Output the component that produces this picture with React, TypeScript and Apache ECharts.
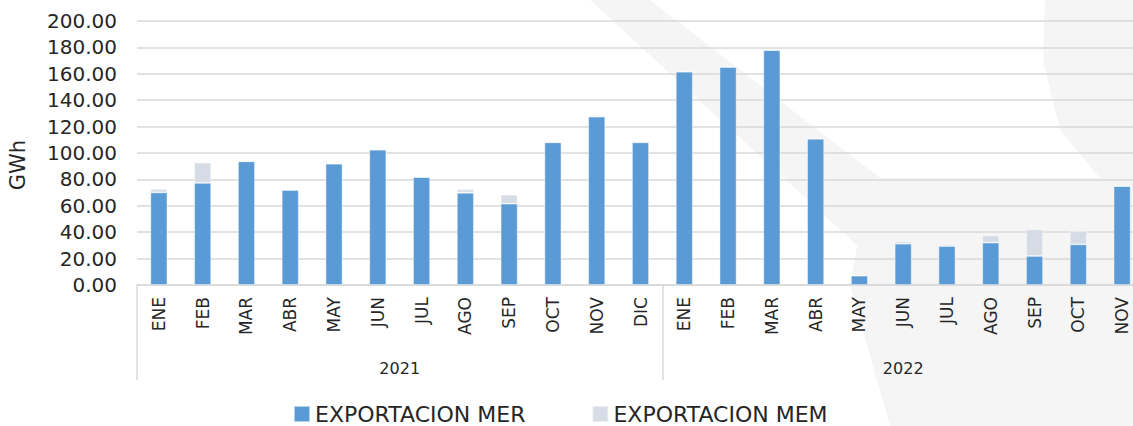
import React, { useEffect, useRef } from "react";
import * as echarts from "echarts";

const months2021 = ["ENE", "FEB", "MAR", "ABR", "MAY", "JUN", "JUL", "AGO", "SEP", "OCT", "NOV", "DIC"];
const months2022 = ["ENE", "FEB", "MAR", "ABR", "MAY", "JUN", "JUL", "AGO", "SEP", "OCT", "NOV"];
const years = ["2021", "2022"];
const categories = [...months2021, ...months2022];

const exportMER = [70.2, 77.3, 93.7, 72.0, 91.9, 102.5, 81.8, 69.9, 61.6, 108.1, 127.5, 108.1,
  161.6, 165.2, 178.0, 110.8, 7.1, 31.3, 29.5, 32.1, 22.0, 30.8, 75.0];
const exportMEM = [2.5, 15.4, 0, 0, 0, 0, 0, 2.6, 6.8, 0, 1.0, 0.9,
  0, 0, 0, 0.8, 0, 1.8, 1.3, 5.5, 20.2, 10.1, 0];

const yTicks = { min: 0, max: 200, interval: 20 };

const FONT = "DejaVu Sans";
const TEXT = "#262626";
const GRID = "#D9D9D9";
const WATERMARK = "#F5F5F5";

export default function App() {
  const ref = useRef<HTMLDivElement>(null);
  useEffect(() => {
    if (!ref.current) return;
    const chart = echarts.init(ref.current, null, { renderer: "svg" });
    const n1 = months2021.length;
    const n = categories.length;
    const yearBounds = [0, n1, n];
    const yearCenters = [n1 / 2, n1 + (n - n1) / 2];
    chart.setOption({
      animation: false,
      backgroundColor: "#ffffff",
      textStyle: { fontFamily: FONT },
      grid: { left: 137, top: 21, width: 1007, height: 264, containLabel: false },
      legend: {
        left: 288,
        top: 398,
        icon: "rect",
        itemWidth: 16,
        itemHeight: 16,
        itemGap: 66,
        textStyle: { fontSize: 22, color: TEXT, fontFamily: FONT },
        data: ["EXPORTACION MER", "EXPORTACION MEM"],
      },
      graphic: [
        {
          type: "polygon",
          silent: true,
          z: -10,
          shape: {
            points: [[1045, 0], [1160, 0], [1160, 426], [890, 426], [850, 285], [870, 178], [1100, 178], [1060, 130], [1043, 60]],
          },
          style: { fill: WATERMARK },
        },
        {
          type: "polygon",
          silent: true,
          z: -10,
          shape: {
            points: [[590, 0], [650, 0], [880, 178], [862, 250]],
          },
          style: { fill: WATERMARK },
        },
        {
          type: "text",
          x: 18,
          y: 165,
          rotation: Math.PI / 2,
          style: {
            text: "GWh",
            fontSize: 21,
            fontFamily: FONT,
            fill: TEXT,
            textAlign: "center",
            textVerticalAlign: "middle",
          },
        },
      ],
      xAxis: [
        {
          type: "category",
          data: categories,
          boundaryGap: true,
          axisLine: { show: true, lineStyle: { color: GRID, width: 1.5 } },
          axisTick: { show: false },
          axisLabel: {
            rotate: 90,
            margin: 12,
            fontSize: 17,
            color: TEXT,
            fontFamily: FONT,
            interval: 0,
          },
        },
        {
          type: "value",
          min: 0,
          max: n,
          position: "bottom",
          axisLine: { show: false },
          splitLine: { show: false },
          axisTick: {
            show: true,
            customValues: yearBounds,
            length: 95,
            lineStyle: { color: GRID, width: 1.5 },
          },
          axisLabel: {
            show: true,
            customValues: yearCenters,
            margin: 75,
            fontSize: 16,
            color: TEXT,
            fontFamily: FONT,
            formatter: (v: number) => {
              const i = yearCenters.findIndex((c) => Math.abs(c - v) < 1e-6);
              return i >= 0 ? years[i] : "";
            },
          },
        },
      ],
      yAxis: {
        type: "value",
        min: yTicks.min,
        max: yTicks.max,
        interval: yTicks.interval,
        axisLine: { show: false },
        axisTick: { show: false },
        splitLine: { lineStyle: { color: GRID, width: 1.5 } },
        axisLabel: {
          margin: 20,
          fontSize: 20,
          color: TEXT,
          fontFamily: FONT,
          formatter: (v: number) => v.toFixed(2),
        },
      },
      series: [
        {
          name: "EXPORTACION MER",
          type: "bar",
          stack: "total",
          barWidth: 17,
          xAxisIndex: 0,
          data: exportMER,
          itemStyle: { color: "#5B9BD5", borderColor: "rgba(255,255,255,0.55)", borderWidth: 0.8 },
        },
        {
          name: "EXPORTACION MEM",
          type: "bar",
          stack: "total",
          barWidth: 17,
          xAxisIndex: 0,
          data: exportMEM,
          itemStyle: { color: "#D6DCE5", borderColor: "rgba(255,255,255,0.55)", borderWidth: 0.8 },
        },
      ],
    });
    return () => chart.dispose();
  }, []);
  return (
    <div style={{ position: "absolute", left: 0, top: 0, width: 1133, height: 426, overflow: "hidden" }}>
      <div ref={ref} style={{ width: 1160, height: 426 }} />
    </div>
  );
}
